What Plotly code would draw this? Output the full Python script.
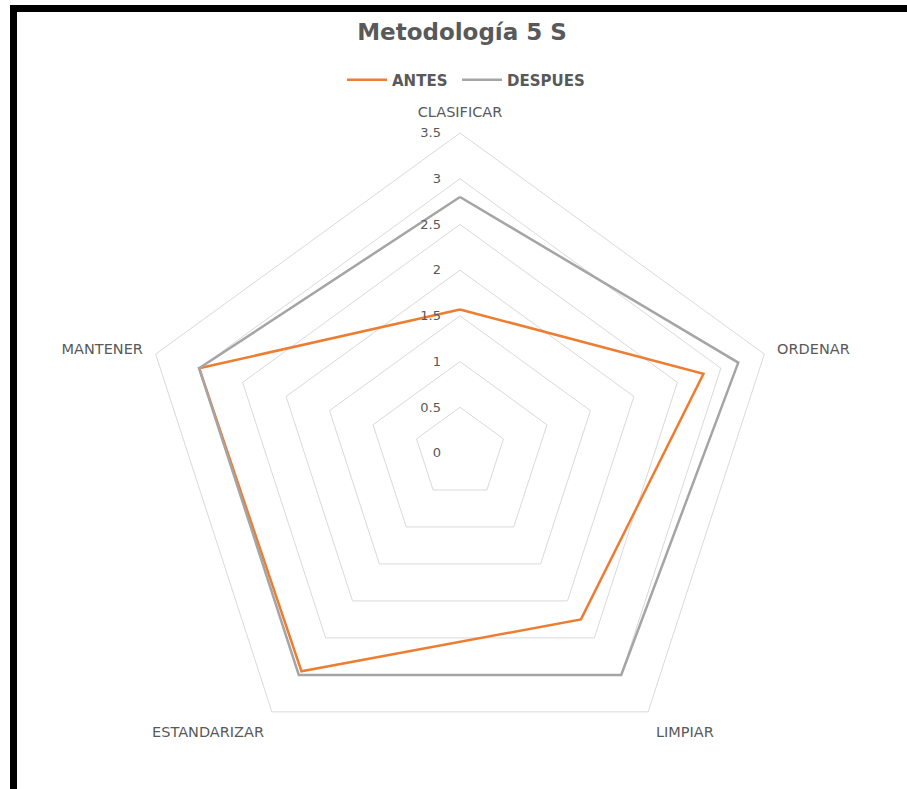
import plotly.graph_objects as go

categories = ["CLASIFICAR", "ORDENAR", "LIMPIAR", "ESTANDARIZAR", "MANTENER"]
antes = [1.57, 2.8, 2.25, 2.95, 3.0]
despues = [2.8, 3.2, 3.0, 3.0, 3.0]
radial_ticks = [0, 0.5, 1, 1.5, 2, 2.5, 3, 3.5]

W, H = 907, 789
cx, cy, R = 460, 453, 320

def closed(v):
    return list(v) + [v[0]]

fig = go.Figure()
fig.add_trace(go.Scatterpolar(
    r=closed(antes), theta=closed(categories), name="ANTES", mode="lines",
    line=dict(color="#ED7D31", width=2.5), legend="legend", showlegend=True))
fig.add_trace(go.Scatterpolar(
    r=closed(despues), theta=closed(categories), name="DESPUES", mode="lines",
    line=dict(color="#A5A5A5", width=2.5), legend="legend2", showlegend=True))

font_family = "'DejaVu Sans', sans-serif"
legend_font = dict(size=15, color="#595959", family=font_family, weight="bold")

fig.update_layout(
    width=W, height=H,
    showlegend=True,
    margin=dict(l=0, r=0, t=0, b=0),
    paper_bgcolor="white",
    font=dict(family=font_family, color="#595959"),
    title=dict(text="<b>Metodología 5 S</b>", x=462 / W, xanchor="center",
               y=1 - 32 / H, yanchor="middle",
               font=dict(size=23, color="#595959", family=font_family)),
    legend=dict(orientation="h", x=342 / W, xanchor="left", y=1 - 80 / H, yanchor="middle",
                font=legend_font, itemwidth=40, visible=True),
    legend2=dict(orientation="h", x=457 / W, xanchor="left", y=1 - 80 / H, yanchor="middle",
                 font=legend_font, itemwidth=40, visible=True),
    polar=dict(
        domain=dict(x=[(cx - R) / W, (cx + R) / W], y=[1 - (cy + R) / H, 1 - (cy - R) / H]),
        bgcolor="white",
        gridshape="linear",
        radialaxis=dict(range=[0, 3.5], tickvals=radial_ticks, ticktext=[str(t) for t in radial_ticks],
                        angle=90, tickangle=90, side="counterclockwise",
                        showline=False, ticks="outside", ticklen=14, tickcolor="rgba(0,0,0,0)",
                        gridcolor="#D9D9D9", gridwidth=1,
                        tickfont=dict(size=13, color="#595959")),
        angularaxis=dict(rotation=90, direction="clockwise", showgrid=False,
                         showline=True, linecolor="#D9D9D9", linewidth=1,
                         ticks="outside", ticklen=10, tickcolor="rgba(0,0,0,0)",
                         tickfont=dict(size=14.5, color="#595959")),
    ),
    shapes=[
        dict(type="rect", xref="paper", yref="paper", x0=10 / W, x1=1, y0=1 - 12 / H, y1=1 - 5 / H,
             fillcolor="black", line=dict(width=0), layer="above"),
        dict(type="rect", xref="paper", yref="paper", x0=10 / W, x1=17 / W, y0=0, y1=1 - 5 / H,
             fillcolor="black", line=dict(width=0), layer="above"),
    ],
)

fig.write_html("out.html")
